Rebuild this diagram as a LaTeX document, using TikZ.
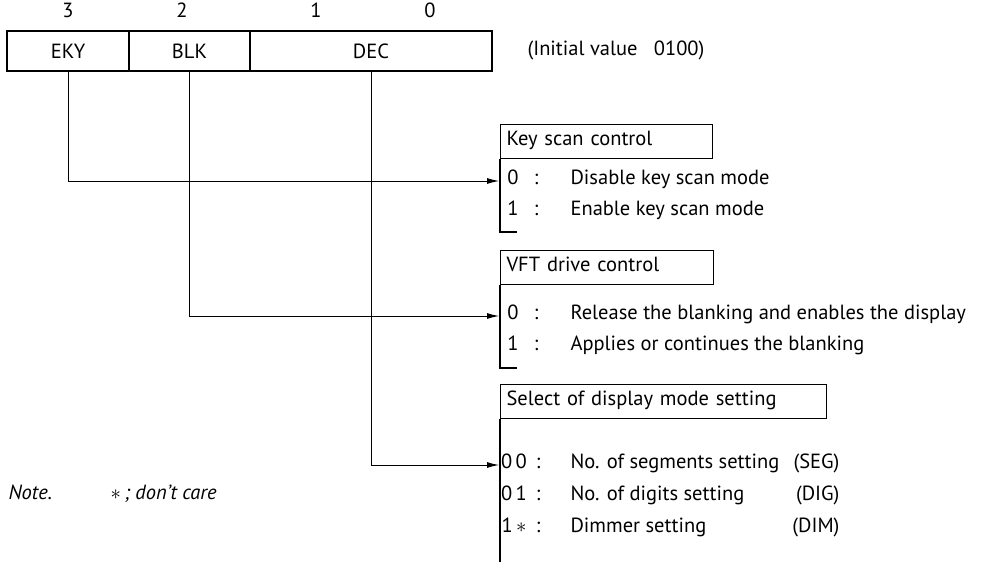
\documentclass[tikz,border=0pt]{standalone}
\usepackage{fontspec}
\setmainfont{PT Sans}
\usetikzlibrary{arrows.meta}

\begin{document}
\begin{tikzpicture}[x=1pt, y=-1pt, line width=1.1pt, font=\fontsize{20.5}{24}\selectfont,
  field/.style={draw, minimum height=40pt, inner sep=0pt},
  txt/.style={inner sep=0pt, text height=0.9em, text depth=0.2em},
  lbl/.style={txt, anchor=west},
  code/.style={txt, anchor=east},
  title/.style={draw, anchor=north west, minimum height=34pt, inner xsep=6pt, inner ysep=0pt,
    text height=0.9em, text depth=0.2em, align=left},
  wire/.style={line width=0.9pt, -{Latex[length=12pt, width=6pt]}}]
\useasboundingbox (0,0) rectangle (992,562);
% register
\node[field, minimum width=122pt] (EKY) at (68,51) {EKY};
\node[field, minimum width=121pt] (BLK) at (189.5,51) {BLK};
\node[field, minimum width=242pt] (DEC) at (371,51) {DEC};
\node[txt] (b3) at (68,14) {3};
\node[txt] (b2) at (182,14) {2};
\node[txt] (b1) at (316,14) {1};
\node[txt] (b0) at (430,14) {0};
\node[lbl] (init) at (527,52) {(Initial value\hspace{0.8em}0100)};
% key scan control
\node[title, text width=200pt] (kbox) at (500,124) {Key scan control};
\coordinate (kin) at (499,181);
\coordinate (kfoot) at (500,232);
\draw (kbox.south west) -- (kfoot) -- ++(17,0);
\node[txt] (k0) at (513,181) {0};
\node[txt] (k0c) at (536,181) {:};
\node[lbl] (k0t) at (570,181) {Disable key scan mode};
\node[txt] (k1) at (513,212) {1};
\node[txt] (k1c) at (536,212) {:};
\node[lbl] (k1t) at (570,212) {Enable key scan mode};
% VFT drive control
\node[title, text width=201pt] (vbox) at (500,250) {VFT drive control};
\coordinate (vin) at (499,316);
\coordinate (vfoot) at (500,368);
\draw (vbox.south west) -- (vfoot) -- ++(17,0);
\node[txt] (v0) at (513,316) {0};
\node[txt] (v0c) at (536,316) {:};
\node[lbl] (v0t) at (570,316) {Release the blanking and enables the display};
\node[txt] (v1) at (513,347) {1};
\node[txt] (v1c) at (536,347) {:};
\node[lbl] (v1t) at (570,347) {Applies or continues the blanking};
% display mode
\node[title, text width=314pt] (sbox) at (500,384) {Select of display mode setting};
\coordinate (sin) at (499,465);
\coordinate (sfoot) at (500,562);
\draw (sbox.south west) -- (sfoot);
\node[txt] (s0) at (514,465) {0\,0};
\node[txt] (s0c) at (538,465) {:};
\node[lbl] (s0t) at (570,465) {No. of segments setting};
\node[code] (s0m) at (840,465) {(SEG)};
\node[txt] (s1) at (514,497) {0\,1};
\node[txt] (s1c) at (538,497) {:};
\node[lbl] (s1t) at (570,497) {No. of digits setting};
\node[code] (s1m) at (840,497) {(DIG)};
\node[txt] (s2) at (514,529) {1\,$\ast$};
\node[txt] (s2c) at (538,529) {:};
\node[lbl] (s2t) at (570,529) {Dimmer setting};
\node[code] (s2m) at (840,529) {(DIM)};
% note
\node[lbl, font=\fontsize{20.5}{24}\selectfont\itshape] (note) at (8,496) {Note.};
\node[lbl, font=\fontsize{20.5}{24}\selectfont\itshape] (care) at (110,496) {$\ast$\,; don't care};
% connectors
\draw[wire] (EKY.south) |- (kin);
\draw[wire] (BLK.south) |- (vin);
\draw[wire] (DEC.south) |- (sin);
\end{tikzpicture}
\end{document}
